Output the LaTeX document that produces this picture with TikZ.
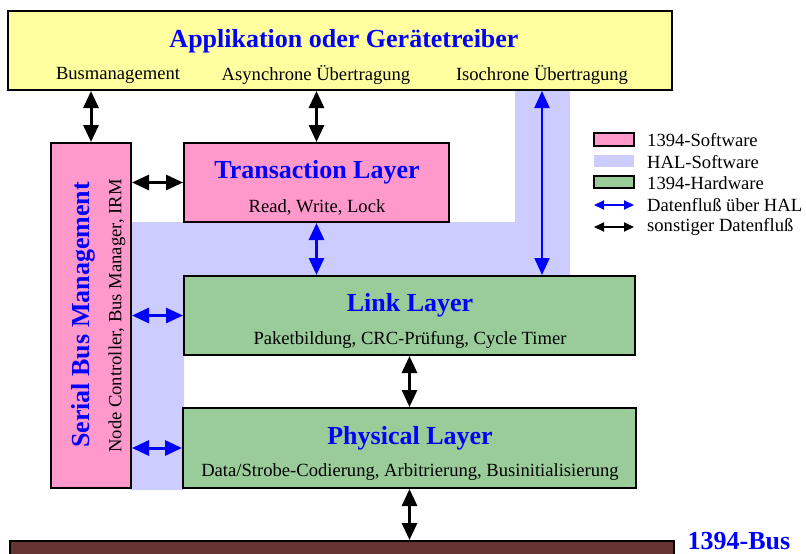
\documentclass[tikz,border=0pt]{standalone}
\usepackage{fontspec}
\setmainfont{Liberation Serif}
\usetikzlibrary{arrows.meta}
\usetikzlibrary{calc}

\definecolor{swpink}{RGB}{255,153,204}
\definecolor{halblue}{RGB}{204,204,255}
\definecolor{hwgreen}{RGB}{153,204,153}
\definecolor{appyellow}{RGB}{255,255,160}
\definecolor{busbrown}{RGB}{102,51,51}

\tikzset{
  box/.style={draw=black, line width=2pt, inner sep=0pt},
  title/.style={text=blue, font=\fontsize{26}{30}\selectfont\bfseries, inner sep=0pt},
  sub/.style={font=\fontsize{18.6}{22}\selectfont, inner sep=0pt},
  flow/.style={{Triangle[length=17pt,width=15pt]}-{Triangle[length=17pt,width=15pt]}, line width=3pt, black},
  halflow/.style={flow, blue},
  keyflow/.style={{Triangle[length=10pt,width=9pt]}-{Triangle[length=10pt,width=9pt]}, line width=2pt},
}

\begin{document}
\begin{tikzpicture}[x=1pt,y=-1pt]
          \useasboundingbox (0,0) rectangle (806,554);

          % HAL-Software area behind the layers
          \fill [halblue] (130,222) -- (515,222) -- (515,90) -- (570,90) -- (570,276)
                -- (184,276) -- (184,490) -- (130,490) -- cycle;

          \node [box, fill=appyellow, minimum width=664pt, minimum height=79pt] (app) at (340,50.5) {};
          \node [title] (apptitle) at (344,41) {Applikation oder Gerätetreiber};
          \node [sub] (busm) at (118,75) {Busmanagement};
          \node [sub] (async) at (316,75) {Asynchrone Übertragung};
          \node [sub] (iso) at (542,75) {Isochrone Übertragung};

          \node [box, fill=swpink, minimum width=80pt, minimum height=345pt] (sbm) at (91,315.5) {};
          \node [title, rotate=90] (sbmtitle) at (83,315) {Serial Bus Management};
          \node [sub, rotate=90] (sbmsub) at (117,316) {Node Controller, Bus Manager, IRM};

          \node [box, fill=swpink, minimum width=265pt, minimum height=79pt] (tl) at (316.5,182.5) {};
          \node [title] (tltitle) at (317,172) {Transaction Layer};
          \node [sub] (tlsub) at (317,207) {Read, Write, Lock};

          \node [box, fill=hwgreen, minimum width=451pt, minimum height=79pt] (ll) at (409.5,315.5) {};
          \node [title] (lltitle) at (410,305) {Link Layer};
          \node [sub] (llsub) at (410,340) {Paketbildung, CRC-Prüfung, Cycle Timer};

          \node [box, fill=hwgreen, minimum width=453pt, minimum height=80pt] (pl) at (409.5,448) {};
          \node [title] (pltitle) at (410,438) {Physical Layer};
          \node [sub] (plsub) at (410,472) {Data/Strobe-Codierung, Arbitrierung, Businitialisierung};

          \node [box, fill=busbrown, minimum width=664pt, minimum height=30pt] (bus) at (342,556) {};
          \node [title] (bustitle) at (739,541) {1394-Bus};

          % data flow
          \draw [flow] (sbm.north) -- (sbm.north |- app.south);
          \draw [flow] (tl.north) -- (tl.north |- app.south);
          \draw [halflow, line width=2pt] (iso |- app.south) -- (iso |- ll.north);
          \draw [flow] (tl.west) -- (tl.west -| sbm.east);
          \draw [halflow] (tl.south) -- (tl.south |- ll.north);
          \draw [halflow] (ll.west) -- (ll.west -| sbm.east);
          \draw [halflow] (pl.west) -- (pl.west -| sbm.east);
          \draw [flow] (ll.south) -- (ll.south |- pl.north);
          \draw [flow] (pl.south) -- (pl.south |- bus.north);

          % legend
          \node [box, line width=1.5pt, fill=swpink, minimum width=40pt, minimum height=13pt] (keysw) at (614,139.5) {};
          \node [fill=halblue, inner sep=0pt, minimum width=40pt, minimum height=12pt] (keyhal) at (614,161) {};
          \node [box, line width=1.5pt, fill=hwgreen, minimum width=40pt, minimum height=12pt] (keyhw) at (614,182) {};
          \coordinate (keya) at (594,205);
          \coordinate (keyb) at (634,205);
          \coordinate (keyc) at (594,227);
          \coordinate (keyd) at (634,227);
          \draw [keyflow, blue] (keya) -- (keyb);
          \draw [keyflow, black] (keyc) -- (keyd);
          \node [sub, anchor=west] (keyswtext) at (647,140) {1394-Software};
          \node [sub, anchor=west] (keyhaltext) at (647,162) {HAL-Software};
          \node [sub, anchor=west] (keyhwtext) at (647,183) {1394-Hardware};
          \node [sub, anchor=west] (keyatext) at (647,205) {Datenfluß über HAL};
          \node [sub, anchor=west] (keyctext) at (647,227) {sonstiger Datenfluß};
        \end{tikzpicture}
\end{document}
